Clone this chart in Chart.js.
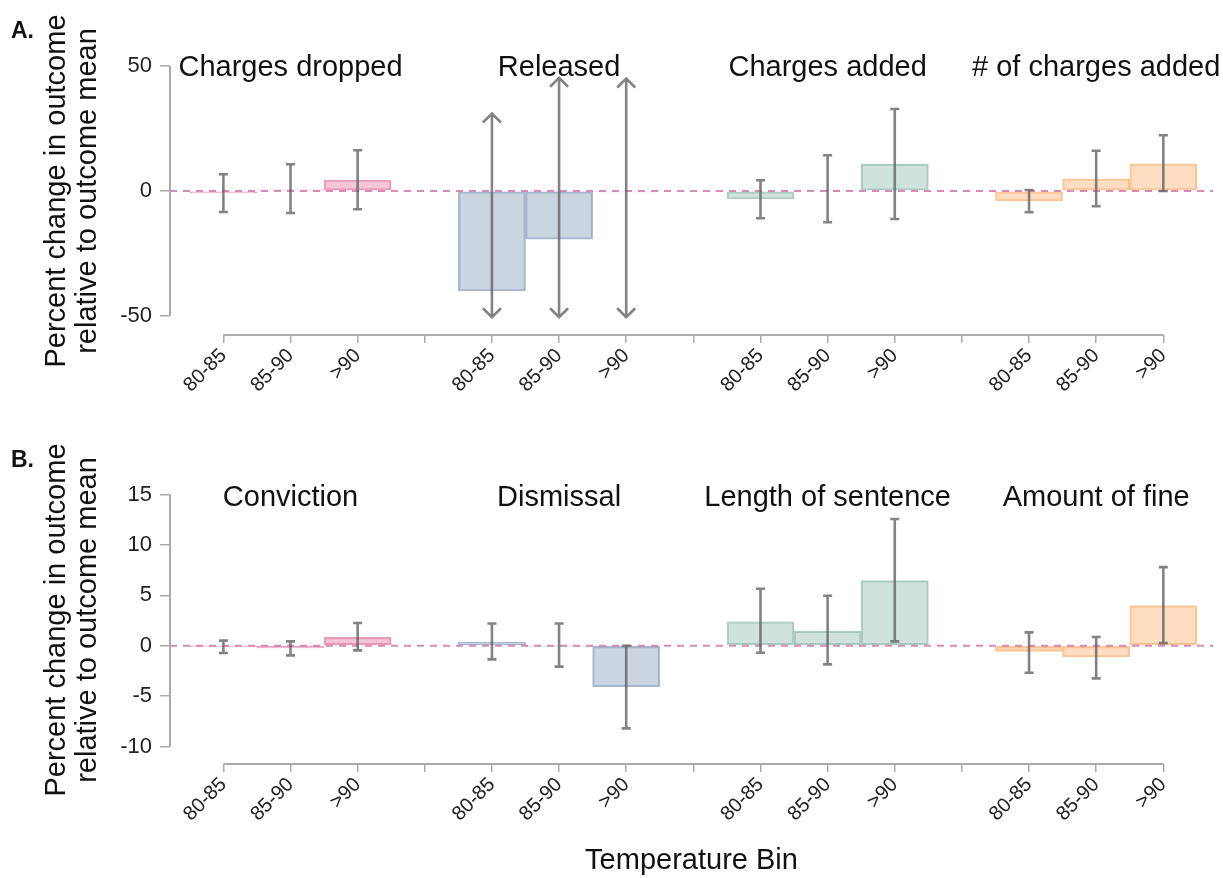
<!DOCTYPE html>
<html>
<head>
<meta charset="utf-8">
<script src="https://cdn.jsdelivr.net/npm/chart.js@4"></script>
<style>
  body { margin: 0; background: #fff; font-family: "Liberation Sans", Arial, sans-serif; }
  #wrap { position: relative; width: 1223px; height: 878px; }
  canvas { position: absolute; left: 0; }
  .tag { position: absolute; left: 11px; font-weight: bold; font-size: 23px; color: #111; }
</style>
</head>
<body>
<div id="wrap">
  <canvas id="chartA" width="1223" height="420" style="top:0"></canvas>
  <canvas id="chartB" width="1223" height="458" style="top:420px"></canvas>
  <div class="tag" style="top:17px">A.</div>
  <div class="tag" style="top:446px">B.</div>
</div>
<script>
// tick labels along the x axis (blank slots separate the groups)
const tickLabels = ['80-85', '85-90', '>90', '', '80-85', '85-90', '>90', '',
                    '80-85', '85-90', '>90', '', '80-85', '85-90', '>90'];
const groupPositions = [[1, 2, 3], [5, 6, 7], [9, 10, 11], [13, 14, 15]];

// panel A
const titlesA = ['Charges dropped', 'Released', 'Charges added', '# of charges added'];
const droppedVals = [-0.8, 0.5, 4.4];
const droppedLo = [-8.4, -8.8, -7.3];
const droppedHi = [6.7, 10.7, 16.3];
const releasedVals = [-40, -19.3, -0.4];
const releasedLo = [-50.5, -50.5, -50.5];
const releasedHi = [31, 45.3, 45];
const addedVals = [-3.2, 0.5, 10.7];
const addedLo = [-10.9, -12.5, -11.2];
const addedHi = [4.3, 14.3, 32.8];
const numAddedVals = [-4, 4.9, 10.9];
const numAddedLo = [-8.5, -6.1, 0];
const numAddedHi = [0.4, 16.1, 22.3];

// panel B
const titlesB = ['Conviction', 'Dismissal', 'Length of sentence', 'Amount of fine'];
const convictionVals = [-0.1, -0.23, 0.83];
const convictionLo = [-0.73, -0.96, -0.46];
const convictionHi = [0.5, 0.43, 2.25];
const dismissalVals = [0.36, -0.05, -4.07];
const dismissalLo = [-1.36, -2.08, -8.2];
const dismissalHi = [2.2, 2.2, 0];
const lengthVals = [2.38, 1.45, 6.45];
const lengthLo = [-0.7, -1.85, 0.43];
const lengthHi = [5.65, 4.96, 12.57];
const fineVals = [-0.56, -1.12, 3.97];
const fineLo = [-2.68, -3.24, 0.26];
const fineHi = [1.32, 0.86, 7.8];

const fills = ['rgba(232,120,160,0.42)', 'rgba(140,162,190,0.45)', 'rgba(150,190,180,0.45)', 'rgba(252,180,120,0.45)'];
const borders = ['rgba(228,120,158,0.7)', 'rgba(140,162,192,0.75)', 'rgba(150,188,178,0.75)', 'rgba(250,180,120,0.75)'];

const FONT = '"Liberation Sans", Arial, sans-serif';
const X_MIN = 0.205, X_MAX = 15.74;

// error bars, axis lines and group titles
const decorPlugin = {
    id: 'decor',
    afterDatasetsDraw(chart, args, opts) {
        const ctx = chart.ctx;
        const xs = chart.scales.x;
        const ys = chart.scales.y;
        const area = chart.chartArea;
        ctx.save();

        // axis lines (only from first to last tick, like base R)
        ctx.strokeStyle = '#aaaaaa';
        ctx.lineWidth = 2;
        ctx.beginPath();
        ctx.moveTo(area.left, ys.getPixelForValue(opts.yTicks[0]));
        ctx.lineTo(area.left, ys.getPixelForValue(opts.yTicks[opts.yTicks.length - 1]));
        ctx.moveTo(xs.getPixelForValue(1), area.bottom);
        ctx.lineTo(xs.getPixelForValue(15), area.bottom);
        ctx.stroke();

        // error bars
        ctx.strokeStyle = 'rgba(100,100,100,0.8)';
        ctx.lineWidth = 2.6;
        opts.groups.forEach((g, gi) => {
            groupPositions[gi].forEach((pos, i) => {
                const x = xs.getPixelForValue(pos);
                const yl = ys.getPixelForValue(g.lo[i]);
                const yh = ys.getPixelForValue(g.hi[i]);
                ctx.beginPath();
                ctx.moveTo(x, yl);
                ctx.lineTo(x, yh);
                if (g.arrows) {
                    ctx.moveTo(x - 9, yh + 9); ctx.lineTo(x, yh); ctx.lineTo(x + 9, yh + 9);
                    ctx.moveTo(x - 9, yl - 9); ctx.lineTo(x, yl); ctx.lineTo(x + 9, yl - 9);
                } else {
                    ctx.moveTo(x - 4.5, yl); ctx.lineTo(x + 4.5, yl);
                    ctx.moveTo(x - 4.5, yh); ctx.lineTo(x + 4.5, yh);
                }
                ctx.stroke();
            });
        });

        // group titles
        ctx.fillStyle = '#111';
        ctx.font = '29px ' + FONT;
        ctx.textAlign = 'center';
        ctx.textBaseline = 'alphabetic';
        opts.titles.forEach((t, gi) => {
            ctx.fillText(t, xs.getPixelForValue(groupPositions[gi][1]), opts.titleBaseline);
        });
        ctx.restore();
    }
};

function buildPanel(canvasId, p) {
    const datasets = p.groups.map((g, gi) => ({
        type: 'bar',
        data: groupPositions[gi].map((pos, i) => ({ x: pos, y: g.vals[i] })),
        backgroundColor: fills[gi],
        borderColor: borders[gi],
        borderWidth: 1.5,
        borderSkipped: false,
        barPercentage: 1,
        categoryPercentage: 1,
        grouped: false,
        order: 2
    }));
    datasets.push({
        type: 'line',
        data: [{ x: X_MIN, y: 0 }, { x: X_MAX, y: 0 }],
        borderColor: 'rgba(214,125,175,0.9)',
        borderWidth: 2,
        borderDash: [7, 6],
        pointRadius: 0,
        order: 1
    });

    return new Chart(document.getElementById(canvasId), {
        type: 'bar',
        data: { datasets },
        plugins: [decorPlugin],
        options: {
            responsive: false,
            animation: false,
            devicePixelRatio: 1,
            layout: { padding: { left: 0, right: 10, top: p.top, bottom: 0 } },
            plugins: {
                legend: { display: false },
                tooltip: { enabled: false },
                decor: { groups: p.groups, titles: p.titles, yTicks: p.yTicks, titleBaseline: p.titleBaseline }
            },
            scales: {
                x: {
                    type: 'linear',
                    min: X_MIN,
                    max: X_MAX,
                    offset: false,
                    afterBuildTicks: (scale) => {
                        scale.ticks = tickLabels.map((_, i) => ({ value: i + 1 }));
                    },
                    afterFit: (scale) => { scale.height = p.xHeight; },
                    border: { display: false },
                    grid: {
                        offset: false,
                        drawOnChartArea: false,
                        drawTicks: true,
                        tickLength: 8,
                        color: '#aaaaaa',
                        lineWidth: 1.5
                    },
                    ticks: {
                        autoSkip: false,
                        minRotation: 45,
                        maxRotation: 45,
                        padding: 1,
                        color: '#222',
                        font: { family: FONT, size: 20 },
                        callback: (v) => tickLabels[Math.round(v) - 1] || ''
                    },
                    title: {
                        display: p.showXTitle,
                        text: 'Temperature Bin',
                        color: '#111',
                        font: { family: FONT, size: 29 },
                        padding: { top: 4, bottom: 0 }
                    }
                },
                y: {
                    min: p.yMin,
                    max: p.yMax,
                    afterBuildTicks: (scale) => {
                        scale.ticks = p.yTicks.map(v => ({ value: v }));
                    },
                    afterFit: (scale) => { scale.width = 170; },
                    border: { display: false },
                    grid: {
                        drawOnChartArea: false,
                        drawTicks: true,
                        tickLength: 10,
                        color: '#aaaaaa',
                        lineWidth: 1.5
                    },
                    ticks: {
                        padding: 8,
                        color: '#222',
                        font: { family: FONT, size: 22 },
                        callback: (v) => String(v)
                    },
                    title: {
                        display: true,
                        text: ['Percent change in outcome', 'relative to outcome mean'],
                        color: '#111',
                        font: { family: FONT, size: 29, lineHeight: 1.05 },
                        padding: { top: 42, bottom: 0 }
                    }
                }
            }
        }
    });
}

buildPanel('chartA', {
    top: 47, xHeight: 85, yMin: -57.6, yMax: 57.6, yTicks: [-50, 0, 50],
    titles: titlesA, titleBaseline: 76, showXTitle: false,
    groups: [
        { vals: droppedVals, lo: droppedLo, hi: droppedHi },
        { vals: releasedVals, lo: releasedLo, hi: releasedHi, arrows: true },
        { vals: addedVals, lo: addedLo, hi: addedHi },
        { vals: numAddedVals, lo: numAddedLo, hi: numAddedHi }
    ]
});

buildPanel('chartB', {
    top: 56, xHeight: 114, yMin: -11.74, yMax: 16.84, yTicks: [-10, -5, 0, 5, 10, 15],
    titles: titlesB, titleBaseline: 86, showXTitle: true,
    groups: [
        { vals: convictionVals, lo: convictionLo, hi: convictionHi },
        { vals: dismissalVals, lo: dismissalLo, hi: dismissalHi },
        { vals: lengthVals, lo: lengthLo, hi: lengthHi },
        { vals: fineVals, lo: fineLo, hi: fineHi }
    ]
});
</script>
</body>
</html>
